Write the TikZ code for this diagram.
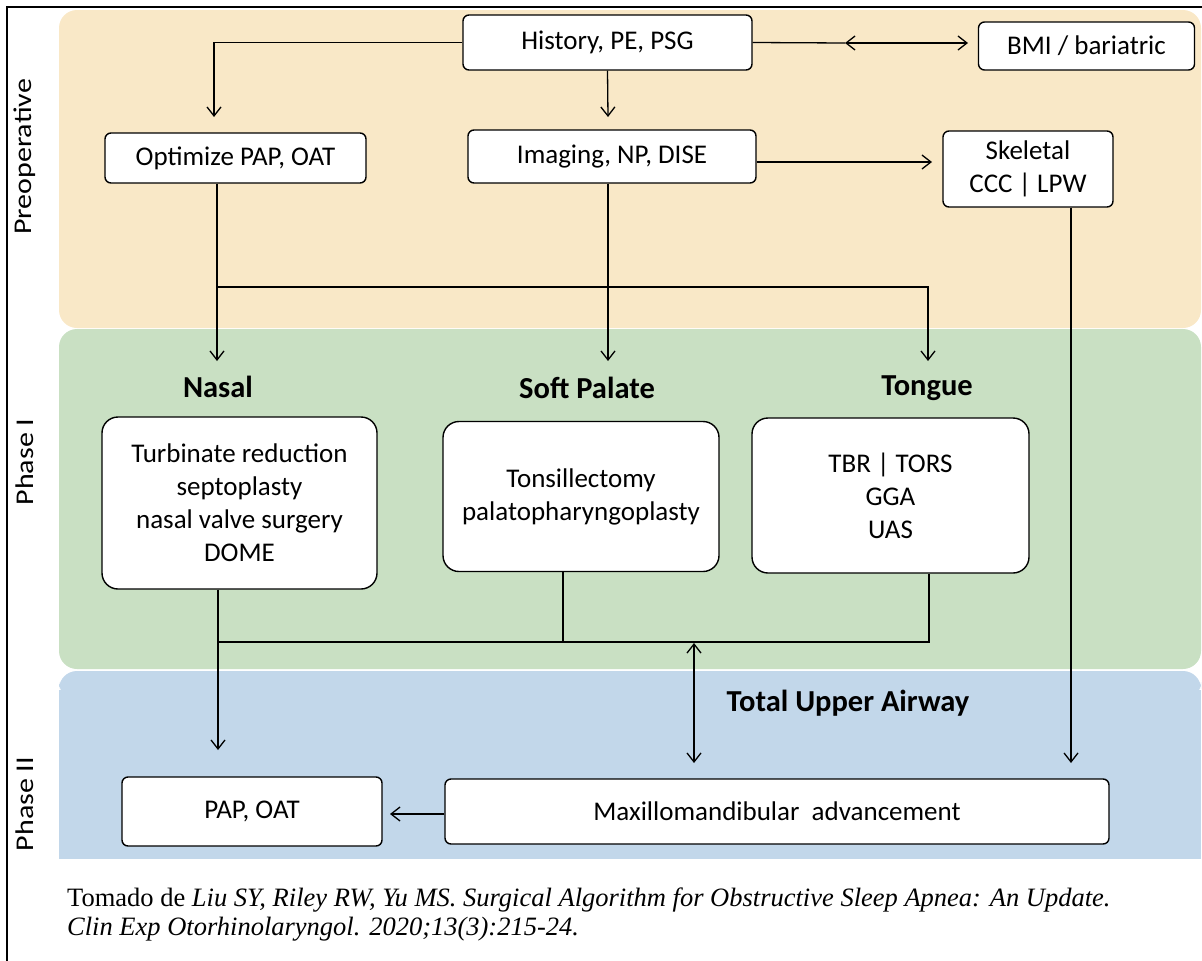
\documentclass[tikz,border=0pt]{standalone}
\usepackage{fontspec}
\setmainfont{Carlito}
\newfontfamily\capfont{Liberation Serif}
\usetikzlibrary{arrows.meta}
\definecolor{tanbg}{RGB}{249,232,199}
\definecolor{greenbg}{RGB}{201,224,195}
\definecolor{bluebg}{RGB}{194,215,234}
\newcommand{\phtxt}[1]{\scalebox{1}[0.85]{#1}}
\begin{document}
\begin{tikzpicture}[x=1pt,y=-1pt,
  box/.style={draw=black, line width=1.4pt, fill=white, rounded corners=6pt, align=center,
    font=\fontsize{27}{33}\selectfont, inner sep=0pt},
  bigbox/.style={box, rounded corners=16pt},
  lab/.style={font=\fontsize{30.5}{34}\selectfont\bfseries},
  phaselab/.style={font=\fontsize{30}{34}\selectfont, rotate=90},
  capt/.style={anchor=base west, inner sep=0pt, font=\capfont\fontsize{26.5}{30}\selectfont},
  conn/.style={line width=1.3pt},
  arr/.style={conn, -{Straight Barb[length=9pt,width=14pt]}},
  darr/.style={conn, {Straight Barb[length=9pt,width=14pt]}-{Straight Barb[length=9pt,width=14pt]}},
  ]
\useasboundingbox (0,0) rectangle (1202,961);
% frame
\draw[line width=1.8pt] (1202,7) -- (7,7) -- (7,961);
% bands
\fill[tanbg, rounded corners=18pt] (59,10) rectangle (1201,328);
\fill[greenbg, rounded corners=18pt] (59,329) rectangle (1201,669);
\fill[bluebg, rounded corners=18pt] (59,671) rectangle (1201,700);
\fill[bluebg] (59,690) rectangle (1201,859);
% phase labels
\node[phaselab] (lpre) at (25,157) {\phtxt{Preoperative}};
\node[phaselab] (lp1) at (25,462) {\phtxt{Phase I}};
\node[phaselab] (lp2) at (25,804) {\phtxt{Phase II}};
% preoperative boxes
\node[box, minimum width=289pt, minimum height=55pt] (hist) at (607.5,42.5) {History, PE, PSG};
\node[box, minimum width=216pt, minimum height=48pt] (bmi) at (1086.5,46) {BMI / bariatric};
\node[box, minimum width=261pt, minimum height=50pt] (opt) at (235.5,158) {Optimize PAP, OAT};
\node[box, minimum width=288pt, minimum height=53pt] (img) at (612,156.5) {Imaging, NP, DISE};
\node[box, minimum width=170pt, minimum height=76pt] (skel) at (1028,169) {Skeletal\\CCC | LPW};
% phase I
\node[lab] (lnasal) at (218,387) {Nasal};
\node[lab] (lsoft) at (587,388) {Soft Palate};
\node[lab] (ltong) at (927,388) {Tongue};
\node[bigbox, minimum width=275pt, minimum height=172pt] (nasal) at (239.5,503)
  {Turbinate reduction\\septoplasty\\nasal valve surgery\\DOME};
\node[bigbox, minimum width=276pt, minimum height=150pt] (soft) at (581,496.5)
  {Tonsillectomy\\palatopharyngoplasty};
\node[bigbox, minimum width=277pt, minimum height=155pt] (tong) at (890.5,495.5)
  {TBR | TORS\\GGA\\UAS};
% phase II
\node[lab] (ltua) at (848,703) {Total Upper Airway};
\node[box, minimum width=260pt, minimum height=69pt] (pap) at (252,811.5) {PAP, OAT};
\node[box, minimum width=664pt, minimum height=65pt] (mma) at (777,811.5) {Maxillomandibular\ \ advancement};
% caption
\node[capt] (cap1) at (67,906)
  {Tomado de \textit{Liu SY, Riley RW, Yu MS. Surgical Algorithm for Obstructive Sleep Apnea: An Update.}};
\node[capt] (cap2) at (67,935)
  {\textit{Clin Exp Otorhinolaryngol. 2020;13(3):215-24.}};
% coordinates
\coordinate (tOpt) at (214,117);
\coordinate (tImg) at (608,117);
\coordinate (mBmi) at (845,43);
\coordinate (tBmi) at (968,43);
\coordinate (tSkel) at (932,162);
\coordinate (jL) at (217,287);
\coordinate (jR) at (928,287);
\coordinate (tNasal) at (217,361);
\coordinate (tSoft) at (608,361);
\coordinate (tTong) at (928,361);
\coordinate (tMma) at (1071,763);
\coordinate (bL) at (218,642);
\coordinate (bR) at (929,642);
\coordinate (bS) at (563,642);
\coordinate (tPap) at (218,750);
\coordinate (dTop) at (694,643);
\coordinate (dBot) at (694,763);
\coordinate (tPapL) at (390,814);
% connectors
\draw[arr] (hist.west) -| (tOpt);
\draw[arr] (hist.south) -- (tImg);
\draw[conn] (hist.east) -- (mBmi);
\draw[darr] (mBmi) -- (tBmi);
\draw[arr] (img.east |- tSkel) -- (tSkel);
\draw[arr] (opt.south -| jL) -- (tNasal);
\draw[arr] (jL) -- (jR) -- (tTong);
\draw[arr] (img.south -| tSoft) -- (tSoft);
\draw[arr] (skel.south -| tMma) -- (tMma);
\draw[conn] (soft.south -| bS) -- (bS);
\draw[conn] (tong.south -| bR) -- (bR) -- (bL);
\draw[arr] (nasal.south -| bL) -- (tPap);
\draw[darr] (dTop) -- (dBot);
\draw[arr] (mma.west |- tPapL) -- (tPapL);
\end{tikzpicture}
\end{document}
